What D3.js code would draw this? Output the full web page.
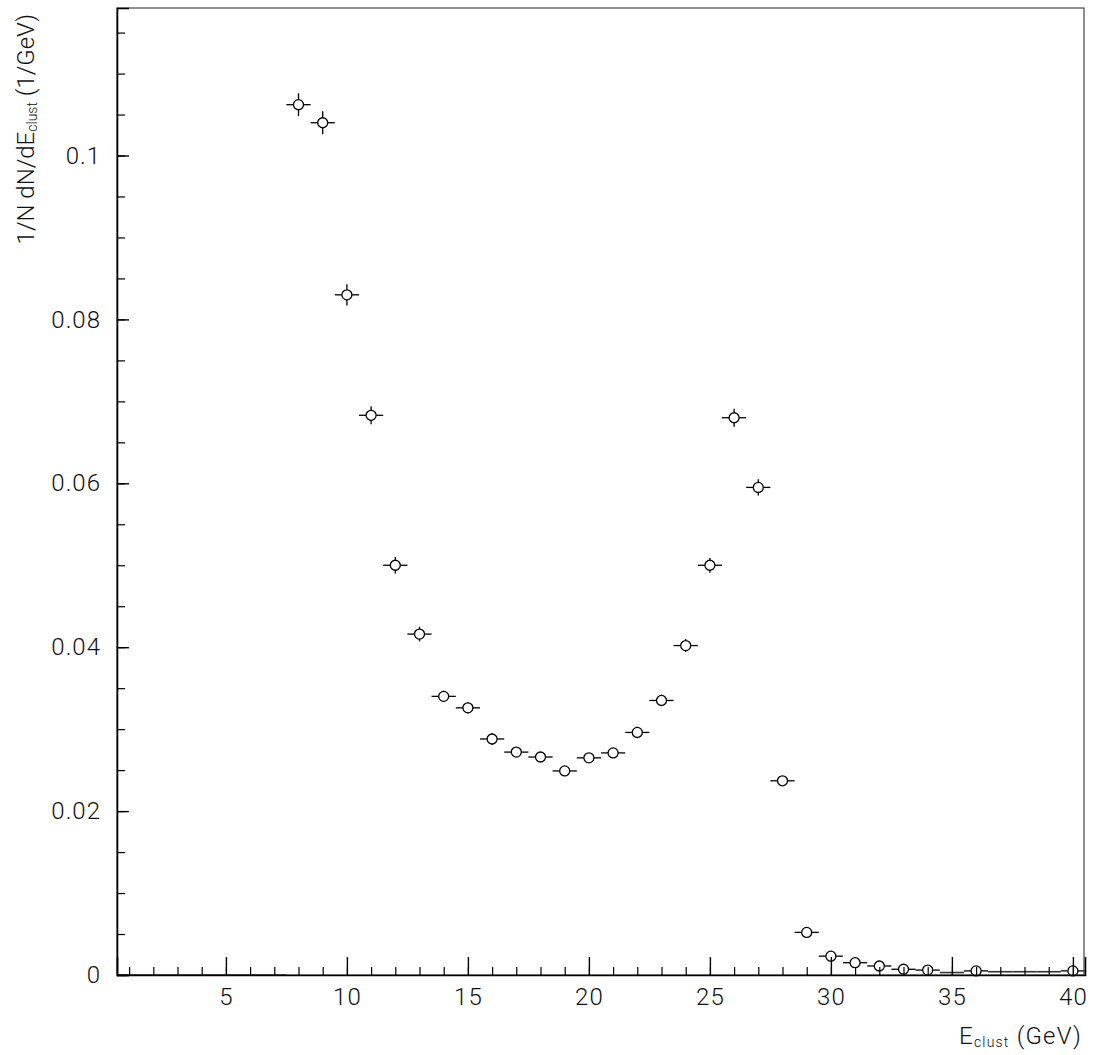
<!DOCTYPE html>
<html>
<head>
<meta charset="utf-8">
<script src="https://cdn.jsdelivr.net/npm/d3@7"></script>
<style>
  body { margin: 0; background: #fff; }
  text { font-family: Roboto, "Liberation Sans", sans-serif; font-weight: 300; fill: #111; }
</style>
</head>
<body>
<div id="container"></div>
<script>
// bins with markers (bin centre, 1/N dN/dE, error)
const energy = [8, 9, 10, 11, 12, 13, 14, 15, 16, 17, 18, 19, 20, 21, 22, 23, 24, 25, 26, 27, 28, 29, 30, 31, 32, 33, 34, 36, 40];
const dens   = [0.1062, 0.1040, 0.0830, 0.0683, 0.0500, 0.0416, 0.0340, 0.0326, 0.0288, 0.0272, 0.0266, 0.0249, 0.0265, 0.0271, 0.0296, 0.0335, 0.0402, 0.0500, 0.0680, 0.0595, 0.0237, 0.0052, 0.0023, 0.0015, 0.0011, 0.0007, 0.0006, 0.0005, 0.0005];
const errs   = [0.0014, 0.0014, 0.0013, 0.0011, 0.0010, 0.0009, 0.0007, 0.0007, 0.0007, 0.0006, 0.0006, 0.0006, 0.0006, 0.0006, 0.0007, 0.0007, 0.0008, 0.0009, 0.0011, 0.0010, 0.0006, 0.0003, 0.0002, 0.0002, 0.0001, 0.0001, 0.0001, 0.0001, 0.0001];
// bins drawn only as histogram line
const lineBins = [1, 2, 3, 4, 5, 6, 7, 35, 37, 38, 39];
const lineVals = [0, 0, 0, 0, 0, 0, 0, 0.0003, 0.0004, 0.0004, 0.0004];

const xMajor = [5, 10, 15, 20, 25, 30, 35, 40];
const yMajor = [0, 0.02, 0.04, 0.06, 0.08, 0.1];

const W = 1094, H = 1055;
const L = 117, R = 1085, T = 8, B = 975;

const svg = d3.select("#container").append("svg")
  .attr("width", W).attr("height", H);

const x = d3.scaleLinear().domain([0.5, 40.5]).range([L, R]);
const y = d3.scaleLinear().domain([0, 0.118]).range([B, T]);
const half = (x(1) - x(0)) / 2;
const rad = 5;

// histogram line for bins without markers
svg.append("g").selectAll("line").data(lineBins).enter().append("line")
  .attr("x1", d => x(d) - half).attr("x2", d => x(d) + half)
  .attr("y1", (d, i) => y(lineVals[i])).attr("y2", (d, i) => y(lineVals[i]))
  .attr("stroke", "#333").attr("stroke-width", 1.6);

// points with error bars
const pts = svg.append("g").selectAll("g").data(energy).enter().append("g")
  .attr("transform", (d, i) => `translate(${x(d)},${y(dens[i])})`);

pts.append("line").attr("x1", -half).attr("x2", -rad).attr("y1", 0).attr("y2", 0)
  .attr("stroke", "#000").attr("stroke-width", 1.3);
pts.append("line").attr("x1", rad).attr("x2", half).attr("y1", 0).attr("y2", 0)
  .attr("stroke", "#000").attr("stroke-width", 1.3);
pts.append("line").attr("x1", 0).attr("x2", 0)
  .attr("y1", (d, i) => -Math.max(rad, y(0) - y(errs[i])))
  .attr("y2", -rad)
  .attr("stroke", "#000").attr("stroke-width", 1.3);
pts.append("line").attr("x1", 0).attr("x2", 0)
  .attr("y1", rad)
  .attr("y2", (d, i) => Math.max(rad, y(0) - y(errs[i])))
  .attr("stroke", "#000").attr("stroke-width", 1.3);
pts.append("circle").attr("r", rad)
  .attr("fill", "#fff").attr("stroke", "#000").attr("stroke-width", 1.3);

// frame
svg.append("rect").attr("x", L).attr("y", T).attr("width", R - L - 1).attr("height", B - T)
  .attr("fill", "none").attr("stroke", "#444").attr("stroke-width", 1.2);

// x axis
const xMinor = d3.range(1, 41);
svg.append("g").attr("transform", `translate(0,${B})`)
  .call(d3.axisBottom(x).tickValues(xMinor).tickSize(-8).tickFormat(""))
  .call(g => g.select(".domain").remove())
  .selectAll("line").attr("stroke", "#000").attr("stroke-width", 1.2);
const xa = svg.append("g").attr("transform", `translate(0,${B})`)
  .call(d3.axisBottom(x).tickValues(xMajor).tickSize(-18).tickPadding(13).tickFormat(d3.format("d")));
xa.select(".domain").attr("stroke", "#000").attr("stroke-width", 1.6);
xa.selectAll("line").attr("stroke", "#000").attr("stroke-width", 1.4);
xa.selectAll("text").attr("font-size", 24).attr("font-family", "Roboto")
  .attr("letter-spacing", 1).attr("fill", "#111");

// y axis
const yMinor = d3.range(0, 24).map(i => i * 0.005);
svg.append("g").attr("transform", `translate(${L},0)`)
  .call(d3.axisLeft(y).tickValues(yMinor).tickSize(-8).tickFormat(""))
  .call(g => g.select(".domain").remove())
  .selectAll("line").attr("stroke", "#000").attr("stroke-width", 1.2);
const ya = svg.append("g").attr("transform", `translate(${L},0)`)
  .call(d3.axisLeft(y).tickValues(yMajor).tickSize(-12).tickPadding(16).tickFormat(d => d === 0 ? "0" : d3.format("")(+d.toFixed(2))));
ya.select(".domain").attr("stroke", "#000").attr("stroke-width", 1.6);
ya.selectAll("line").attr("stroke", "#000").attr("stroke-width", 1.4);
ya.selectAll("text").attr("font-size", 24).attr("font-family", "Roboto")
  .attr("letter-spacing", 1).attr("fill", "#111");

// axis titles
const xt = svg.append("text").attr("x", 1082).attr("y", 1044)
  .attr("text-anchor", "end").attr("font-size", 24).attr("letter-spacing", 1.2);
xt.append("tspan").text("E");
xt.append("tspan").attr("font-size", 14).attr("dy", 3).text("clust");
xt.append("tspan").attr("dy", -3).text(" (GeV)");

const yt = svg.append("text")
  .attr("transform", "translate(34,14) rotate(-90)")
  .attr("text-anchor", "end").attr("font-size", 24);
yt.append("tspan").text("1/N dN/dE");
yt.append("tspan").attr("font-size", 14).attr("dy", 3).text("clust");
yt.append("tspan").attr("dy", -3).text(" (1/GeV)");
</script>
</body>
</html>
